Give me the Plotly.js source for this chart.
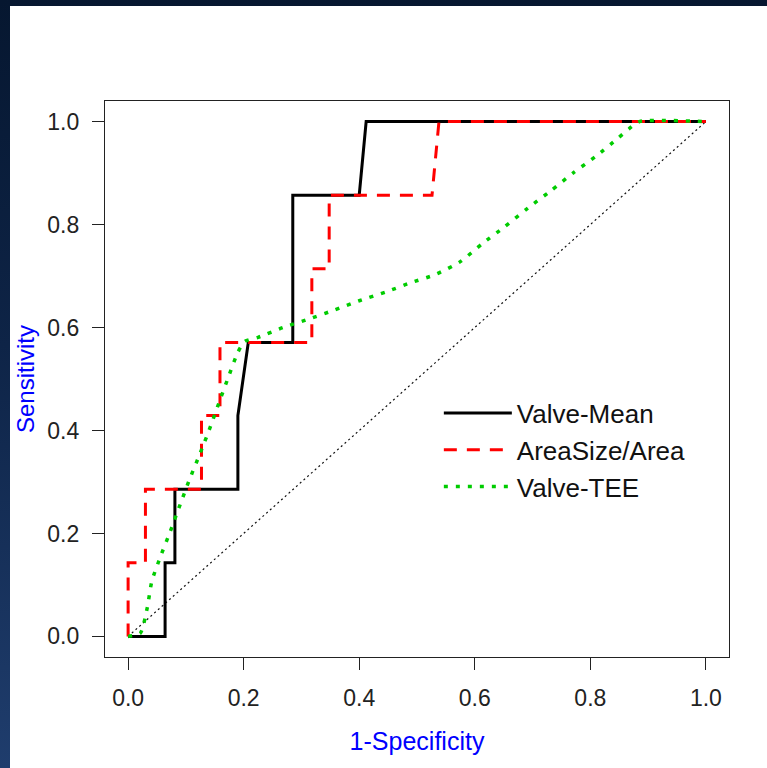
<!DOCTYPE html>
<html>
<head>
<meta charset="utf-8">
<script src="https://cdn.plot.ly/plotly-3.0.1.min.js"></script>
<style>
  html, body { margin: 0; padding: 0; width: 767px; height: 768px; overflow: hidden;
    background: linear-gradient(to bottom, #061730 0%, #0e2447 45%, #1f3d6d 100%); }
  #chart { position: absolute; left: 10px; top: 6px; width: 757px; height: 762px; background: #ffffff; }
</style>
</head>
<body>
<div id="chart"></div>
<script>
// ROC curves
const meanFpr = [0, 0.064, 0.064, 0.081, 0.081, 0.190, 0.190, 0.208, 0.285, 0.285, 0.400, 0.412, 1.0];
const meanTpr = [0, 0, 0.143, 0.143, 0.286, 0.286, 0.429, 0.571, 0.571, 0.857, 0.857, 1.0, 1.0];

const areaFpr = [0, 0, 0.030, 0.030, 0.127, 0.127, 0.159, 0.159, 0.318, 0.318, 0.348, 0.348, 0.526, 0.538, 1.0];
const areaTpr = [0, 0.143, 0.143, 0.286, 0.286, 0.429, 0.429, 0.571, 0.571, 0.714, 0.714, 0.857, 0.857, 1.0, 1.0];

const teeFpr = [0, 0.021, 0.033, 0.041, 0.056, 0.073, 0.090, 0.106, 0.124, 0.141, 0.157, 0.173, 0.190, 0.202,
  0.225, 0.268, 0.314, 0.357, 0.400, 0.446, 0.489, 0.532, 0.575, 0.612, 0.652, 0.692, 0.732, 0.770, 0.810, 0.847, 0.867, 0.885, 1.0];
const teeTpr = [0, 0.006, 0.055, 0.107, 0.155, 0.204, 0.256, 0.304, 0.354, 0.403, 0.453, 0.502, 0.552, 0.573,
  0.581, 0.600, 0.617, 0.634, 0.652, 0.669, 0.687, 0.703, 0.728, 0.762, 0.796, 0.832, 0.866, 0.900, 0.933, 0.967, 0.986, 1.0, 1.0];

const refX = [0, 1];
const refY = [0, 1];

const seriesNames = ["Valve-Mean", "AreaSize/Area", "Valve-TEE"];
const tickVals = [0, 0.2, 0.4, 0.6, 0.8, 1.0];
const tickText = ["0.0", "0.2", "0.4", "0.6", "0.8", "1.0"];
const xTitle = "1-Specificity";
const yTitle = "Sensitivity";

const FONT = "Liberation Sans, Arial, sans-serif";

const traces = [
  { x: refX, y: refY, mode: "lines", showlegend: false, hoverinfo: "skip",
    line: { color: "#111111", width: 1.2, dash: "2px,3px" } },
  { x: meanFpr, y: meanTpr, mode: "lines", name: seriesNames[0],
    line: { color: "#000000", width: 3 } },
  { x: areaFpr, y: areaTpr, mode: "lines", name: seriesNames[1],
    line: { color: "#ff0000", width: 3, dash: "13px,10px" } },
  { x: teeFpr, y: teeTpr, mode: "lines", name: seriesNames[2],
    line: { color: "#00cc00", width: 3.5, dash: "4px,8px", shape: "spline", smoothing: 0.6 } }
];

const axisCommon = {
  range: [-0.04, 1.04], tickmode: "array", tickvals: tickVals, ticktext: tickText,
  ticks: "outside", ticklen: 12, tickwidth: 1.2, tickcolor: "#222",
  showline: true, linecolor: "#222", linewidth: 1.2, mirror: true,
  showgrid: false, zeroline: false, automargin: false,
  tickfont: { family: FONT, size: 23, color: "#222" }
};

const layout = {
  width: 757, height: 762,
  margin: { l: 95, r: 38, t: 95, b: 111 },
  paper_bgcolor: "#ffffff", plot_bgcolor: "#ffffff",
  xaxis: Object.assign({}, axisCommon, {
    ticklabelstandoff: 8,
    title: { text: xTitle, standoff: 22, font: { family: FONT, size: 25, color: "#0000ff" } }
  }),
  yaxis: Object.assign({}, axisCommon, {
    ticklabelstandoff: 8,
    title: { text: "" }
  }),
  annotations: [{
    text: yTitle, xref: "paper", yref: "paper", x: 0, y: 0.5,
    xanchor: "center", yanchor: "middle", xshift: -80, textangle: -90, showarrow: false,
    font: { family: FONT, size: 24, color: "#0000ff" }
  }],
  legend: {
    x: 0.535, y: 0.481, xanchor: "left", yanchor: "top",
    bgcolor: "rgba(0,0,0,0)", borderwidth: 0, itemwidth: 68,
    font: { family: FONT, size: 26, color: "#111" }
  },
  showlegend: true
};

Plotly.newPlot("chart", traces, layout, { displayModeBar: false, staticPlot: true });
</script>
</body>
</html>
